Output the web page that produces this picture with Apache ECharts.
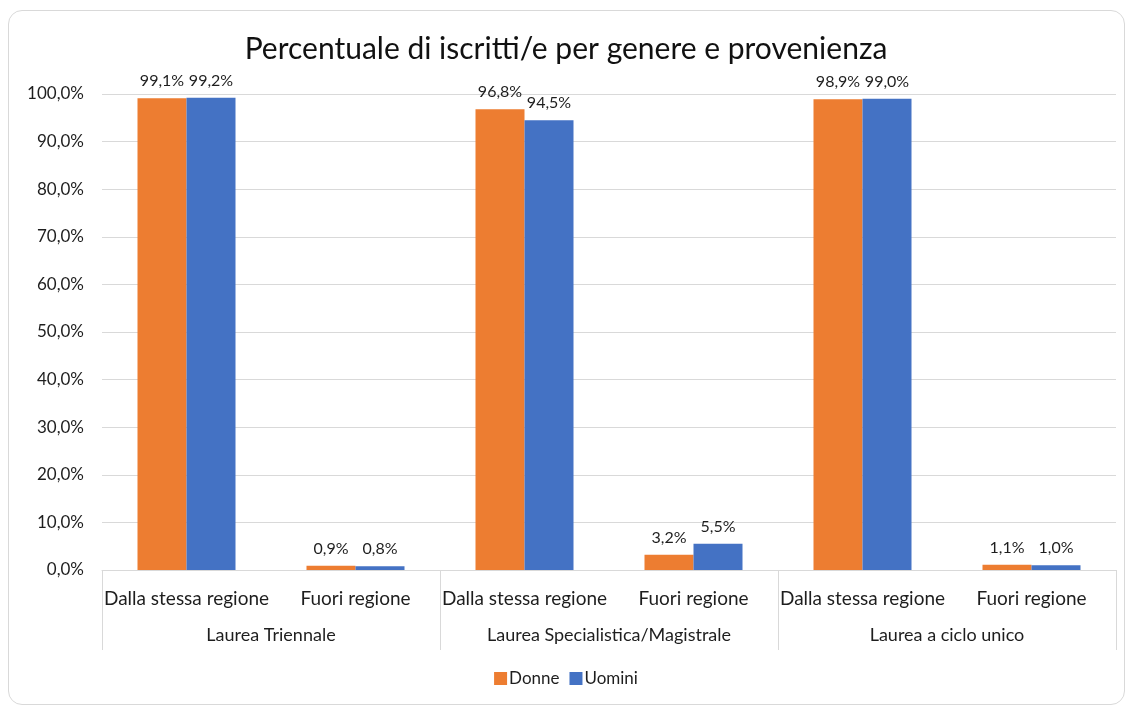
<!DOCTYPE html>
<html>
<head>
<meta charset="utf-8">
<script src="https://cdn.jsdelivr.net/npm/echarts@6/dist/echarts.min.js"></script>
<style>
  html, body { margin: 0; padding: 0; background: #fff; }
  #frame {
    position: absolute; left: 8px; top: 10px; width: 1115px; height: 693px;
    border: 1px solid #d9d9d9; border-radius: 14px;
  }
  #chart { position: absolute; left: 0; top: 0; width: 1132px; height: 708px; }
</style>
</head>
<body>
<div id="frame"></div>
<div id="chart"></div>
<script>
  // dati
  var sottocategorie = ['Dalla stessa regione', 'Fuori regione', 'Dalla stessa regione', 'Fuori regione', 'Dalla stessa regione', 'Fuori regione'];
  var gruppi = ['Laurea Triennale', 'Laurea Specialistica/Magistrale', 'Laurea a ciclo unico'];
  var donne = [99.1, 0.9, 96.8, 3.2, 98.9, 1.1];
  var uomini = [99.2, 0.8, 94.5, 5.5, 99.0, 1.0];

  var font = 'Lato, "Open Sans", sans-serif';
  var txt = '#1e1e1e';
  function pct(v) { return v.toFixed(1).replace('.', ',') + '%'; }

  var myChart = echarts.init(document.getElementById('chart'));
  var option = {
    animation: false,
    textStyle: { fontFamily: font },
    title: {
      text: 'Percentuale di iscritti/e per genere e provenienza',
      left: 'center', top: 29,
      textStyle: { fontFamily: font, fontSize: 30, fontWeight: 'normal', color: '#111' }
    },
    legend: {
      data: ['Donne', 'Uomini'],
      bottom: 16, left: 'center',
      itemWidth: 13, itemHeight: 13, itemGap: 10,
      icon: 'rect',
      textStyle: { fontFamily: font, fontSize: 17, color: txt, padding: [0, 0, 0, -3] }
    },
    grid: { left: 102, right: 16, top: 94, bottom: 138 },
    xAxis: [
      {
        type: 'category',
        data: sottocategorie,
        axisLine: { lineStyle: { color: '#d9d9d9' } },
        axisTick: { show: false },
        axisLabel: { interval: 0, margin: 19, fontSize: 19, color: txt, fontFamily: font }
      },
      {
        type: 'category',
        position: 'bottom',
        data: gruppi,
        axisLine: { show: false },
        axisTick: { show: true, length: 80, lineStyle: { color: '#d9d9d9' } },
        axisLabel: { interval: 0, margin: 56, fontSize: 18, color: txt, fontFamily: font }
      }
    ],
    yAxis: {
      type: 'value', min: 0, max: 100, interval: 10,
      axisLine: { show: false }, axisTick: { show: false },
      splitLine: { lineStyle: { color: '#d9d9d9' } },
      axisLabel: { margin: 18, fontSize: 17, color: txt, fontFamily: font, formatter: function (v) { return pct(v); } }
    },
    series: [
      {
        name: 'Donne', type: 'bar', data: donne, xAxisIndex: 0,
        barWidth: 49, barGap: '0%',
        itemStyle: { color: '#ED7D31' },
        label: { show: true, position: 'top', distance: 9, fontSize: 16, color: txt, fontFamily: font, formatter: function (p) { return pct(p.value); } }
      },
      {
        name: 'Uomini', type: 'bar', data: uomini, xAxisIndex: 0,
        barWidth: 49, barGap: '0%',
        itemStyle: { color: '#4472C4' },
        label: { show: true, position: 'top', distance: 9, fontSize: 16, color: txt, fontFamily: font, formatter: function (p) { return pct(p.value); } }
      }
    ]
  };
  myChart.setOption(option);
</script>
</body>
</html>
